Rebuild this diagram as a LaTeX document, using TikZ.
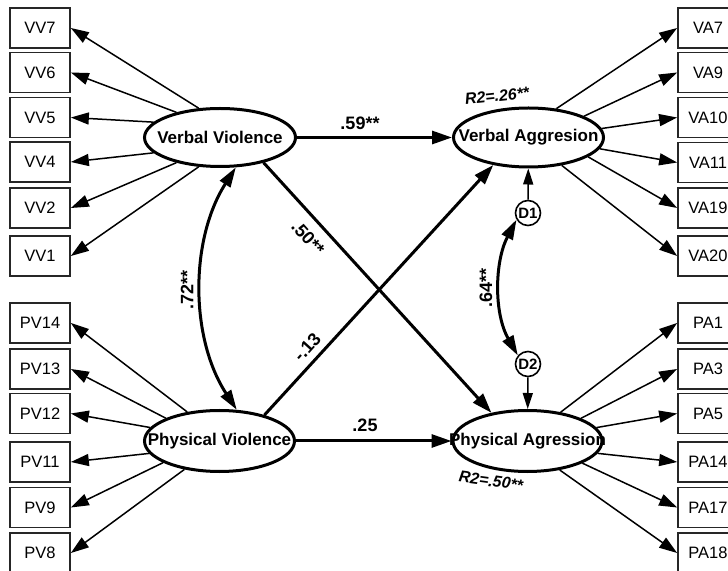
\documentclass[tikz,border=0pt]{standalone}
\usepackage{fontspec}
\setmainfont{Liberation Sans}
\usetikzlibrary{arrows.meta,shapes.geometric}
\begin{document}
\begin{tikzpicture}[x=0.5pt,y=-0.5pt,
  box/.style={draw=black!85,line width=0.85pt,minimum width=30pt,minimum height=20pt,inner sep=0pt,font=\fontsize{8.25}{10}\selectfont},
  lat/.style={ellipse,draw,line width=1.5pt,inner sep=0pt},
  latlab/.style={font=\bfseries\fontsize{8.5}{10}\selectfont},
  ind/.style={line width=0.75pt,-{Triangle[length=9pt,width=6pt]}},
  dind/.style={line width=0.75pt,-{Triangle[length=8pt,width=5pt]}},
  spath/.style={line width=1.5pt,-{Triangle[length=10pt,width=6.5pt]}},
  cov/.style={line width=1.5pt,{Triangle[length=10pt,width=6pt]}-{Triangle[length=10pt,width=6pt]}},
  coef/.style={font=\bfseries\fontsize{9}{10}\selectfont,inner sep=1pt},
  rsq/.style={font=\bfseries\itshape\fontsize{8}{10}\selectfont,inner sep=1pt},
  dist/.style={circle,draw,line width=0.8pt,minimum size=12.5pt,inner sep=0pt,font=\bfseries\fontsize{7.5}{8}\selectfont},
]
\useasboundingbox (0,0) rectangle (728,571);
\fill[white] (0,0) rectangle (728,571);

% latent variables
\node[lat,minimum width=75.5pt,minimum height=29pt,label={[latlab]center:Verbal Violence}] (vv) at (220,137.5) {};
\node[lat,minimum width=75pt,minimum height=29.5pt,label={[latlab]center:Verbal Aggresion}] (va) at (528.5,137.5) {};
\node[lat,minimum width=75pt,minimum height=30.5pt,label={[latlab]center:Physical Violence}] (pv) at (219.5,441) {};
\node[lat,minimum width=74.5pt,minimum height=30.5pt,label={[latlab]center:Physical Agression}] (pa) at (527.5,441) {};

% disturbances
\node[dist] (d1) at (528,213) {D1};
\node[dist] (d2) at (528,364) {D2};

% left boxes
\node[box] (vv7) at (40,28) {VV7};
\node[box] (vv6) at (40,72.5) {VV6};
\node[box] (vv5) at (40,117.5) {VV5};
\node[box] (vv4) at (40,162) {VV4};
\node[box] (vv2) at (40,208) {VV2};
\node[box] (vv1) at (40,256) {VV1};
\node[box] (pv14) at (40,323) {PV14};
\node[box] (pv13) at (40,369) {PV13};
\node[box] (pv12) at (40,413.5) {PV12};
\node[box] (pv11) at (40,462) {PV11};
\node[box] (pv9) at (40,507.5) {PV9};
\node[box] (pv8) at (40,553) {PV8};

% right boxes
\node[box] (va7) at (708,28) {VA7};
\node[box] (va9) at (708,72.5) {VA9};
\node[box] (va10) at (708,117.5) {VA10};
\node[box] (va11) at (708,162.5) {VA11};
\node[box] (va19) at (708,208) {VA19};
\node[box] (va20) at (708,256) {VA20};
\node[box] (pa1) at (708,323) {PA1};
\node[box] (pa3) at (708,369) {PA3};
\node[box] (pa5) at (708,413.5) {PA5};
\node[box] (pa14) at (708,462) {PA14};
\node[box] (pa17) at (708,507.5) {PA17};
\node[box] (pa18) at (708,553) {PA18};

% indicator arrows
\draw[ind] (vv.126) -- (vv7.east);
\draw[ind] (vv.150) -- (vv6.east);
\draw[ind] (vv.167) -- (vv5.east);
\draw[ind] (vv.193) -- (vv4.east);
\draw[ind] (vv.210) -- (vv2.east);
\draw[ind] (vv.234) -- (vv1.east);

\draw[ind] (pv.138) -- (pv14.east);
\draw[ind] (pv.157) -- (pv13.east);
\draw[ind] (pv.169) -- (pv12.east);
\draw[ind] (pv.190) -- (pv11.east);
\draw[ind] (pv.201) -- (pv9.east);
\draw[ind] (pv.219) -- (pv8.east);

\draw[ind] (va.46) -- (va7.west);
\draw[ind] (va.21) -- (va9.west);
\draw[ind] (va.7) -- (va10.west);
\draw[ind] (va.-9) -- (va11.west);
\draw[ind] (va.-18) -- (va19.west);
\draw[ind] (va.-40) -- (va20.west);

\draw[ind] (pa.41) -- (pa1.west);
\draw[ind] (pa.23) -- (pa3.west);
\draw[ind] (pa.11) -- (pa5.west);
\draw[ind] (pa.-10) -- (pa14.west);
\draw[ind] (pa.-22) -- (pa17.west);
\draw[ind] (pa.-42) -- (pa18.west);

% disturbance arrows
\draw[dind] (d1) -- (va);
\draw[dind] (d2) -- (pa);

% structural paths
\draw[spath] (vv) -- (va);
\draw[spath] (pv) -- (pa);
\draw[spath] (vv.-30) -- (pa.142);
\draw[spath] (pv.30) -- (va.-142);

% covariances
\draw[cov] (vv.-62) .. controls +(-46,72) and +(-47,-72) .. (pv.61);
\draw[cov] (d1.210) .. controls +(-22,42) and +(-24,-42) .. (d2.140);

% coefficients
\node[coef] (c59) at (360,123) {.59**};
\node[coef,rotate=-48] (c50) at (308,238) {.50**};
\node[coef,rotate=48] (c13) at (307,347) {-.13};
\node[coef] (c25) at (365,425) {.25};
\node[coef,rotate=90] (c72) at (187,290) {.72**};
\node[coef,rotate=90] (c64) at (486,288) {.64**};
\node[rsq,rotate=6] (r1) at (497,96) {R2=.26**};
\node[rsq,rotate=-8] (r2) at (491,481) {R2=.50**};
\end{tikzpicture}
\end{document}
